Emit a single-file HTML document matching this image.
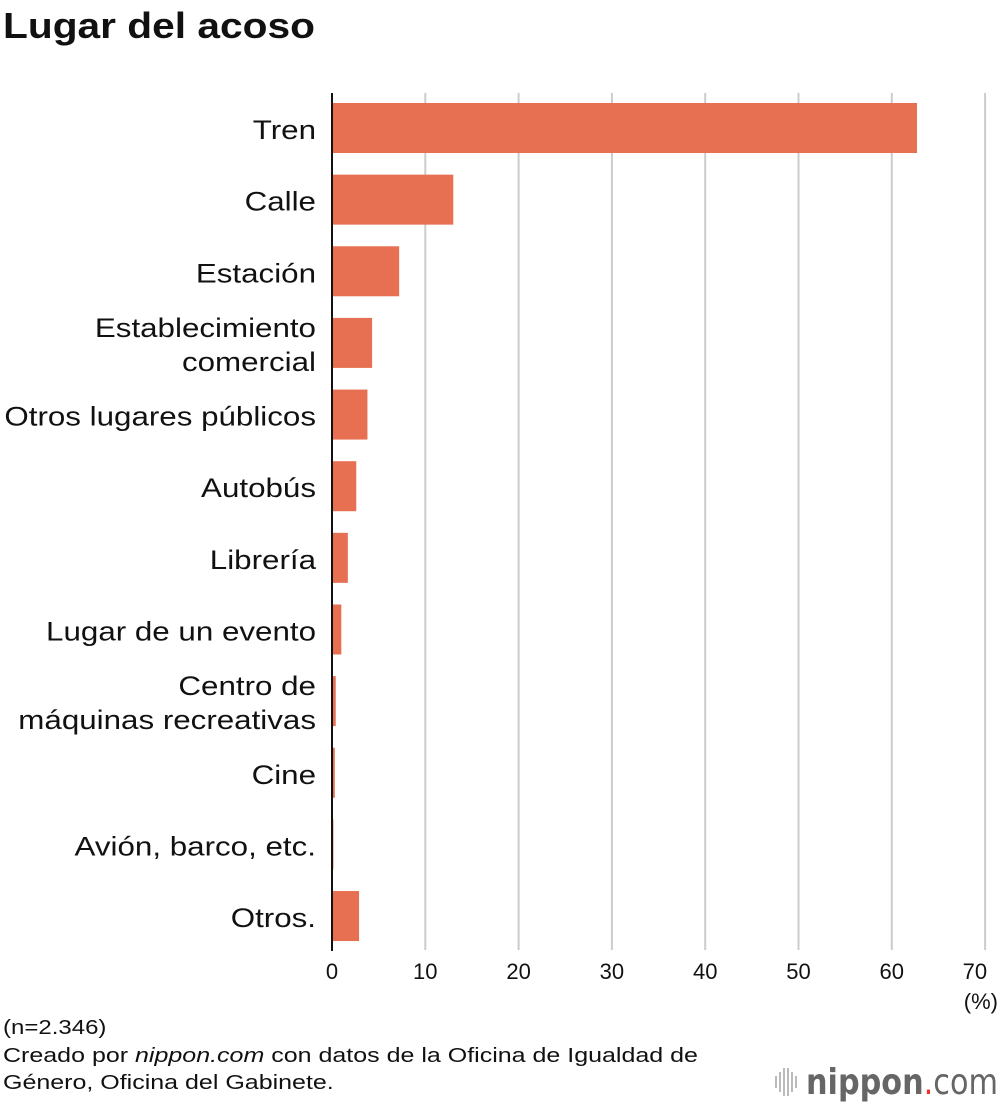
<!DOCTYPE html>
<html><head><meta charset="utf-8"><style>
body{margin:0;background:#fff;font-family:"Liberation Sans",sans-serif;}
#wrap{position:relative;width:1000px;height:1104px;overflow:hidden}
.t{position:absolute;color:#111;transform-origin:0 0;white-space:nowrap}
</style></head><body>
<div id="wrap">
<div class="t" style="left:3px;top:5px;font-size:36px;font-weight:bold;transform:scaleX(1.13)">Lugar del acoso</div>
<svg id="chart" width="1000" height="1104" style="position:absolute;left:0;top:0"></svg>
<div class="t" style="left:3px;top:1017px;font-size:20px;transform:scaleX(1.2)">(n=2.346)</div>
<div class="t" style="left:3px;top:1043px;font-size:20px;line-height:27px;transform:scaleX(1.25)">Creado por <i>nippon.com</i> con datos de la Oficina de Igualdad de<br>Género, Oficina del Gabinete.</div>
</div>
<script>
const categories=["Tren","Calle","Estación","Establecimiento|comercial","Otros lugares públicos","Autobús","Librería","Lugar de un evento","Centro de|máquinas recreativas","Cine","Avión, barco, etc.","Otros."];
const values=[62.7,13.0,7.2,4.3,3.8,2.6,1.7,1.0,0.4,0.3,0.15,2.9];
const ticks=[0,10,20,30,40,50,60,70];
const svg=document.getElementById('chart');const NS='http://www.w3.org/2000/svg';
const x0=332,pxPer=93.3/10;const X=v=>x0+v*pxPer;
const rowY=i=>128+i*71.64;
function mk(t,a,p){const e=document.createElementNS(NS,t);for(const k in a)e.setAttribute(k,a[k]);(p||svg).appendChild(e);return e;}
function stretch(t,r){const w=t.getComputedTextLength();t.setAttribute('textLength',w*r);t.setAttribute('lengthAdjust','spacingAndGlyphs');}
ticks.forEach(t=>{
 if(t>0){const l=mk('line',{x1:X(t),x2:X(t),y1:93,y2:950,stroke:'#ccc','stroke-width':2});
 
 }
 const tx=mk('text',{x:X(t)-(t==70?-2:0),y:979,'text-anchor':t==70?'end':'middle','font-size':22,fill:'#111'});
 
 
 tx.textContent=t;
});
const unit=mk('text',{x:998,y:1009,'text-anchor':'end','font-size':22,fill:'#111'});unit.textContent='(%)';


categories.forEach((c,i)=>{
 const cy=rowY(i);
 const r=mk('rect',{x:x0,y:cy-25,width:Math.max(0,X(values[i])-x0),height:50,fill:'#e77052'});
 
 
 const lines=c.split('|');
 lines.forEach((s,j)=>{
  const t=mk('text',{x:316,y:cy+11+(j-(lines.length-1)/2)*34,'text-anchor':'end','font-size':27,fill:'#111'});
  
  
  t.textContent=s;
  stretch(t,1.16);
 });
});
const ax=mk('line',{x1:x0,x2:x0,y1:93,y2:951,stroke:'#111','stroke-width':2});


// logo
const g=mk('g',{});


[[775,6],[779,10],[783,14],[787,14],[791,10],[795,6]].forEach(([x,h])=>mk('rect',{x:x,y:1082-h,width:2,height:h*2,fill:'#bbb'},g));
const lt=mk('text',{x:806,y:1094,'font-size':36,fill:'#666','font-family':'DejaVu Sans, sans-serif'},g);
lt.innerHTML='<tspan font-weight="bold">nippon</tspan><tspan fill="#e32">.</tspan><tspan>com</tspan>';
const lw=lt.getComputedTextLength();lt.setAttribute('textLength',Math.min(lw,192));lt.setAttribute('lengthAdjust','spacingAndGlyphs');
</script>
</body></html>
